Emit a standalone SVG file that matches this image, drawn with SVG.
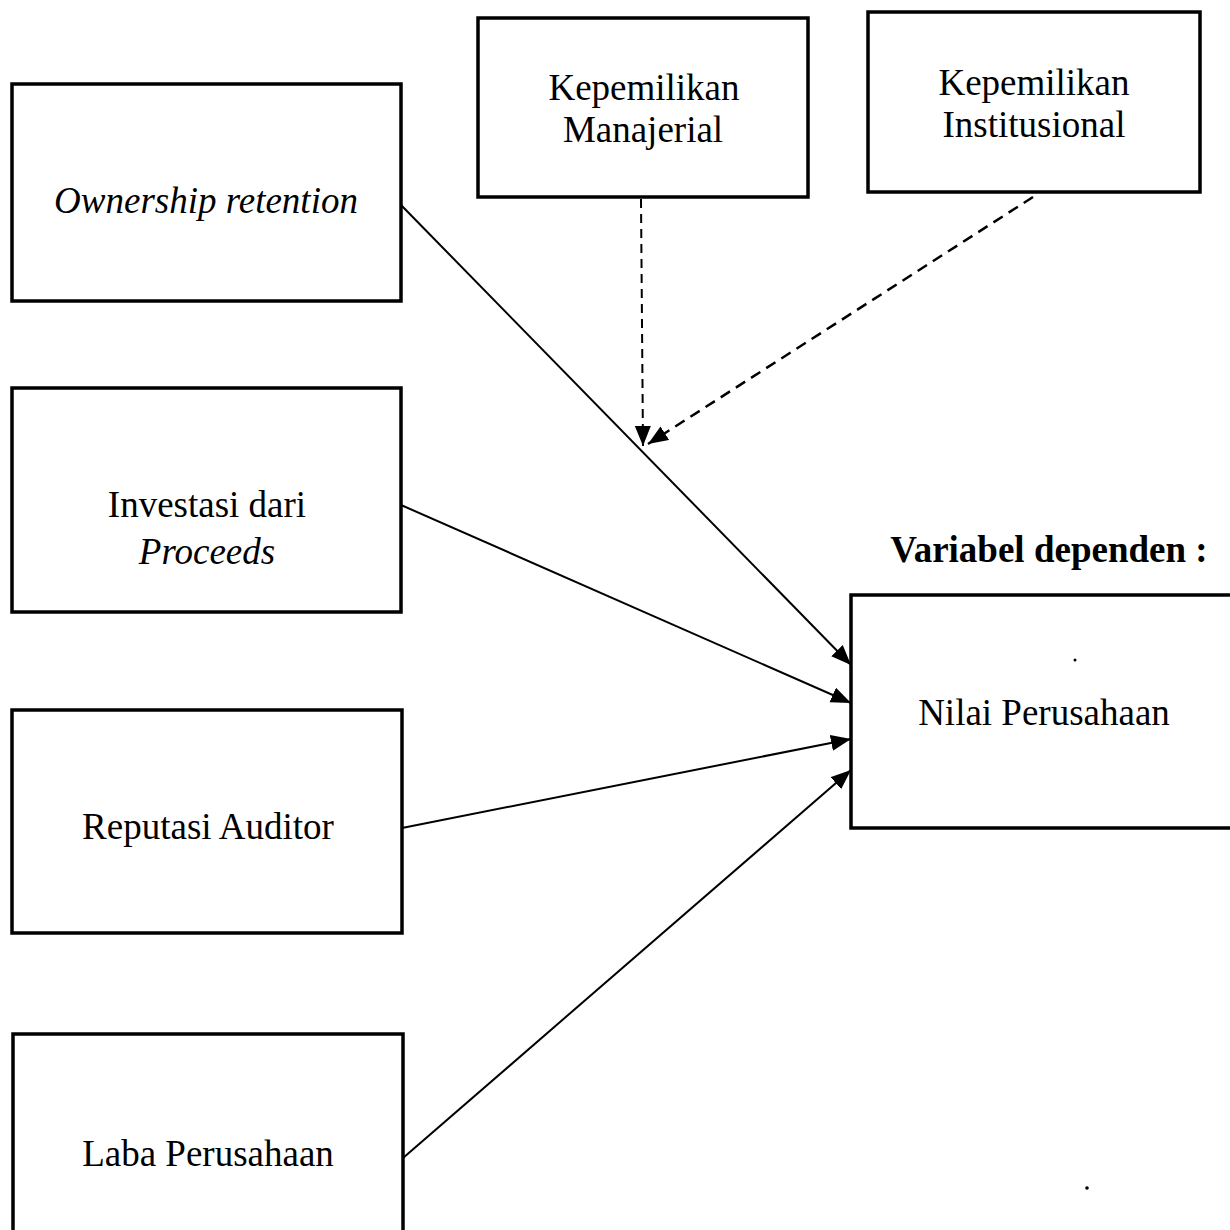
<svg xmlns="http://www.w3.org/2000/svg" width="1230" height="1230" viewBox="0 0 1230 1230">
<defs>
<style>
.box{fill:#fff;stroke:#000;stroke-width:3.5}
.t{font-family:"Liberation Serif","Times New Roman",serif;font-size:37px;fill:#000;text-anchor:middle}
.it{font-style:italic}
.b{font-weight:bold}
.c{stroke:#000;stroke-width:2;fill:none}
.d1{stroke:#000;stroke-width:2;fill:none;stroke-dasharray:9 6}
.d2{stroke:#000;stroke-width:2.5;fill:none;stroke-dasharray:11 7}
</style>
<marker id="ah" markerUnits="userSpaceOnUse" markerWidth="22" markerHeight="18" refX="20" refY="8" orient="auto">
<path d="M0,0 L20,8 L0,16 Z" fill="#000"/>
</marker>
</defs>
<rect width="1230" height="1230" fill="#fff"/>
<g id="node-ownership">
<rect class="box" x="12" y="84" width="389" height="217"/>
<text class="t it" x="206" y="213">Ownership retention</text>
</g>
<g id="node-investasi">
<rect class="box" x="12" y="388" width="389" height="224"/>
<text class="t" x="207" y="517">Investasi dari</text>
<text class="t it" x="207" y="564">Proceeds</text>
</g>
<g id="node-reputasi">
<rect class="box" x="12" y="710" width="390" height="223"/>
<text class="t" x="208" y="839">Reputasi Auditor</text>
</g>
<g id="node-laba">
<rect class="box" x="13" y="1034" width="390" height="210"/>
<text class="t" x="208" y="1166">Laba Perusahaan</text>
</g>
<g id="node-manajerial">
<rect class="box" x="478" y="18" width="330" height="179"/>
<text class="t" x="644" y="100">Kepemilikan</text>
<text class="t" x="643" y="142">Manajerial</text>
</g>
<g id="node-institusional">
<rect class="box" x="868" y="12" width="332" height="180"/>
<text class="t" x="1034" y="95">Kepemilikan</text>
<text class="t" x="1034" y="137">Institusional</text>
</g>
<g id="label-dependen">
<text class="t b" x="1049" y="562">Variabel dependen :</text>
</g>
<g id="node-nilai">
<rect class="box" x="851" y="595" width="390" height="233"/>
<text class="t" x="1044" y="725">Nilai Perusahaan</text>
</g>
<g id="connectors">
<line class="c" x1="401" y1="205" x2="851" y2="665" marker-end="url(#ah)"/>
<line class="c" x1="401" y1="505" x2="851" y2="703" marker-end="url(#ah)"/>
<line class="c" x1="402" y1="828" x2="851" y2="739" marker-end="url(#ah)"/>
<line class="c" x1="403" y1="1158" x2="851" y2="770" marker-end="url(#ah)"/>
<line class="d1" x1="641" y1="199" x2="643" y2="446" marker-end="url(#ah)"/>
<line class="d2" x1="1033" y1="197" x2="648" y2="444" marker-end="url(#ah)"/>
</g>
<circle cx="1075" cy="660" r="1.5" fill="#000"/>
<circle cx="1087" cy="1188" r="1.8" fill="#000"/>
</svg>
